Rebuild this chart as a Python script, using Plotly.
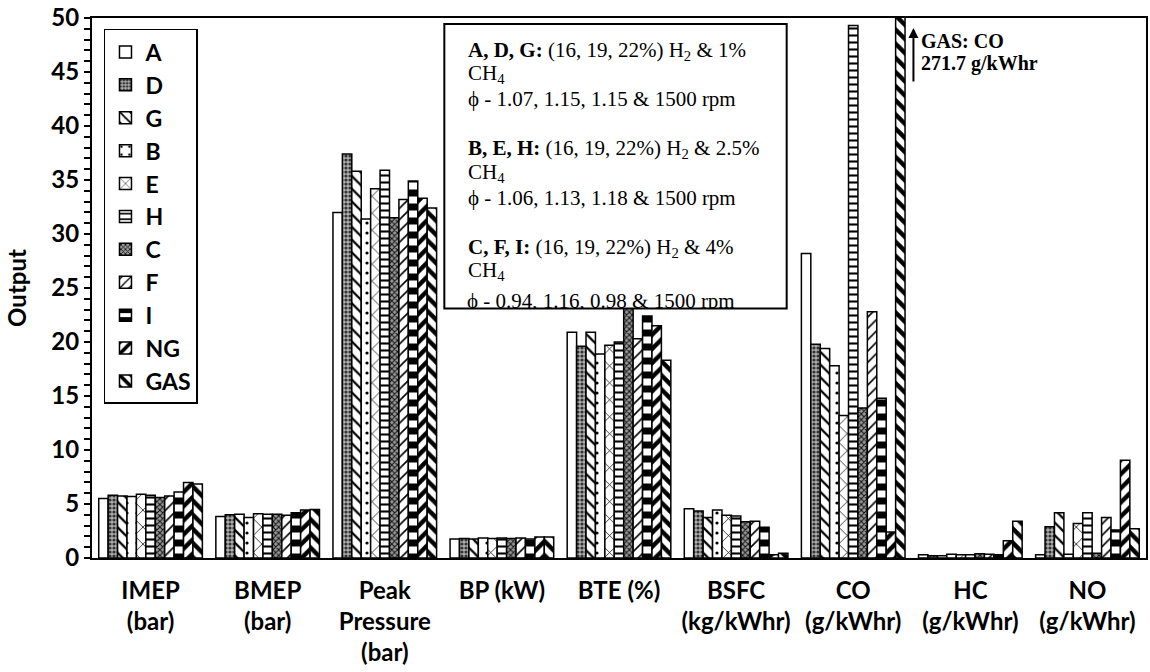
import plotly.graph_objects as go

categories = ["IMEP<br>(bar)", "BMEP<br>(bar)", "Peak<br>Pressure<br>(bar)", "BP (kW)", "BTE (%)",
              "BSFC<br>(kg/kWhr)", "CO<br>(g/kWhr)", "HC<br>(g/kWhr)", "NO<br>(g/kWhr)"]
series_names = ["A", "D", "G", "B", "E", "H", "C", "F", "I", "NG", "GAS"]

A_vals = [5.5, 3.85, 32.0, 1.75, 20.9, 4.55, 28.2, 0.3, 0.3]
D_vals = [5.8, 4.0, 37.4, 1.8, 19.6, 4.35, 19.8, 0.2, 2.9]
G_vals = [5.75, 4.05, 35.8, 1.75, 20.9, 3.75, 19.4, 0.2, 4.2]
B_vals = [5.7, 3.75, 31.4, 1.85, 18.9, 4.45, 17.8, 0.35, 0.35]
E_vals = [5.9, 4.1, 34.2, 1.8, 19.7, 3.95, 13.2, 0.3, 3.2]
H_vals = [5.8, 4.05, 35.9, 1.85, 20.0, 3.9, 49.3, 0.3, 4.2]
C_vals = [5.6, 4.05, 31.5, 1.8, 24.5, 3.35, 13.9, 0.4, 0.45]
F_vals = [5.75, 3.95, 33.2, 1.85, 20.3, 3.4, 22.8, 0.35, 3.75]
I_vals = [6.1, 4.2, 34.9, 1.75, 22.4, 2.85, 14.8, 0.3, 2.6]
NG_vals = [7.0, 4.45, 33.3, 1.95, 21.5, 0.3, 2.4, 1.6, 9.05]
GAS_vals = [6.85, 4.5, 32.4, 1.95, 18.3, 0.45, 271.7, 3.4, 2.7]

series_values = [A_vals, D_vals, G_vals, B_vals, E_vals, H_vals, C_vals, F_vals, I_vals, NG_vals, GAS_vals]

box_lines = [
    "<b>A, D, G:</b> (16, 19, 22%) H<sub>2</sub> &amp; 1%",
    "CH<sub>4</sub>",
    "\u03d5 - 1.07, 1.15, 1.15 &amp; 1500 rpm",
    "<b>B, E, H:</b> (16, 19, 22%) H<sub>2</sub> &amp; 2.5%",
    "CH<sub>4</sub>",
    "\u03d5 - 1.06, 1.13, 1.18 &amp; 1500 rpm",
    "<b>C, F, I:</b> (16, 19, 22%) H<sub>2</sub> &amp; 4%",
    "CH<sub>4</sub>",
    "\u03d5 - 0.94, 1.16, 0.98 &amp; 1500 rpm",
]
gas_note = ["GAS: CO", "271.7 g/kWhr"]

# pattern styles (shape, size, solidity, fg, bg)
styles = {
    "A": ("", 8, 0.3, "black", "white"),
    "D": (".", 4, 0.5, "#333333", "#b0b0b0"),
    "G": ("\\", 9, 0.25, "black", "white"),
    "B": (".", 10, 0.08, "black", "white"),
    "E": ("x", 12, 0.12, "black", "white"),
    "H": ("-", 7, 0.3, "black", "white"),
    "C": ("x", 4, 0.45, "#111111", "#9a9a9a"),
    "F": ("/", 8, 0.2, "black", "white"),
    "I": ("-", 14, 0.5, "black", "white"),
    "NG": ("/", 10, 0.45, "black", "white"),
    "GAS": ("\\", 10, 0.45, "black", "white"),
}

W, H = 1150, 672
L, R, T, B = 92, 2, 17, 114
PW, PH = W - L - R, H - T - B


def px_x(x):
    return (x - L) / PW


def px_y(y):
    return (H - B - y) / PH


fig = go.Figure()
for name, vals in zip(series_names, series_values):
    shp, sz, sol, fg, bg = styles[name]
    fig.add_trace(go.Bar(
        name=name, x=categories, y=vals,
        marker=dict(color=bg, line=dict(color="black", width=1.5),
                    pattern=dict(shape=shp, size=sz, solidity=sol, fgcolor=fg, bgcolor=bg, fillmode="replace")),
    ))

font_sans = "Lato"
fig.update_layout(
    width=W, height=H, autosize=False,
    margin=dict(l=L, r=R, t=T, b=B),
    paper_bgcolor="white", plot_bgcolor="white",
    barmode="group", bargap=0.115, bargroupgap=0,
    font=dict(family=font_sans, color="black", size=24),
    legend=dict(x=px_x(104), y=px_y(28), xanchor="left", yanchor="top",
                bgcolor="white", bordercolor="black", borderwidth=1.5,
                font=dict(family=font_sans, size=23, color="black", weight="bold"),
                itemwidth=30, tracegroupgap=0),
    xaxis=dict(type="category", showline=True, mirror=True, linecolor="black", linewidth=2,
               ticks="", tickfont=dict(family=font_sans, size=24, color="black", weight="bold"),
               ticklabelstandoff=10),
    yaxis=dict(range=[0, 50], dtick=5, showline=True, mirror=True, linecolor="black", linewidth=2,
               ticks="outside", ticklen=6, tickwidth=1.5, tickcolor="black",
               minor=dict(dtick=1, ticks="outside", ticklen=6, tickwidth=1.5, tickcolor="black"),
               showgrid=False, zeroline=False,
               tickfont=dict(family=font_sans, size=24, color="black", weight="bold"),
               title=dict(text="Output", font=dict(family=font_sans, size=24, color="black", weight="bold"),
                          standoff=18)),
)

# opaque note box
fig.add_shape(type="rect", xref="paper", yref="paper",
              x0=px_x(445), x1=px_x(788), y0=px_y(308), y1=px_y(23),
              line=dict(color="black", width=2), fillcolor="white", layer="above")

line_y = [50, 73, 98, 148, 172, 197, 247, 270]
for txt, yy in zip(box_lines[:-1], line_y):
    fig.add_annotation(xref="paper", yref="paper", x=px_x(467), y=px_y(yy),
                       xanchor="left", yanchor="middle", showarrow=False, text=txt,
                       font=dict(family="Liberation Serif", size=21, color="black", weight="normal"))
# last line clipped by the box bottom
fig.add_annotation(xref="paper", yref="paper", x=px_x(467), y=px_y(287),
                   xanchor="left", yanchor="top", showarrow=False, text=box_lines[-1],
                   height=19, valign="top", borderpad=0, align="left",
                   font=dict(family="Liberation Serif", size=21, color="black", weight="normal"))

# arrow and note for GAS CO value
fig.add_annotation(xref="paper", yref="paper", x=px_x(915), y=px_y(27), ax=0, ay=55,
                   showarrow=True, arrowhead=2, arrowsize=1, arrowwidth=2, arrowcolor="black", text="")
for txt, yy in zip(gas_note, [40, 63]):
    fig.add_annotation(xref="paper", yref="paper", x=px_x(921), y=px_y(yy),
                       xanchor="left", yanchor="middle", showarrow=False, text=txt,
                       font=dict(family="Liberation Serif", size=20, color="black", weight="bold"))

fig.write_html("out.html")
